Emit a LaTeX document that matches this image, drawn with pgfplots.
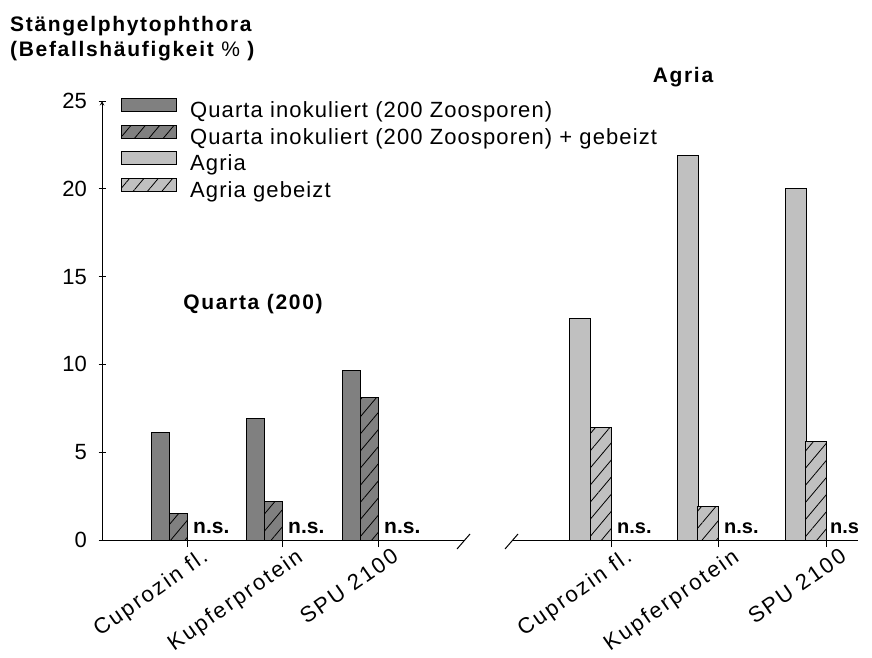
\documentclass[border=0pt]{standalone}
\usepackage{fontspec}
\setmainfont{Liberation Sans}
\newfontfamily\lgfont{Liberation Sans}[LetterSpace=5]
\newfontfamily\ttlfont{Liberation Sans}[LetterSpace=8]
\newfontfamily\lblfont{Liberation Sans}[LetterSpace=10]
\usepackage{pgfplots}
\pgfplotsset{compat=1.18}
\usetikzlibrary{patterns.meta}
\definecolor{quarta}{RGB}{128,128,128}
\definecolor{agria}{RGB}{192,192,192}

\pgfplotsset{
  hatch/.style={postaction={pattern={Lines[angle=50,distance=11pt,line width=0.8pt]}}},
  common/.style={
    scale only axis, height=439pt, ymin=0, ymax=25,
    axis x line=bottom,
    axis line style={-, line width=1pt},
    tick align=outside, major tick length=7pt,
    tick style={black, line width=1pt},
    /pgf/number format/assume math mode=true,
    xticklabel style={font=\lblfont\fontsize{22}{22}\selectfont, rotate=35, anchor=north east, xshift=14pt, yshift=-4pt},
    legend image code/.code={\draw[##1,line width=1pt] (0pt,1pt) rectangle (55pt,14pt); \path (68pt,0pt);},
  },
  barstyle/.style={ybar, bar shift=0pt, draw=black, line width=1pt},
}

\begin{document}
\begin{tikzpicture}
\path[use as bounding box] (0pt,0pt) rectangle (872pt,-658pt);

% left part: Quarta
\begin{axis}[common,
  at={(102pt,-540pt)}, anchor=south west,
  width=362pt, xmin=102, xmax=464,
  axis y line=left,
  ytick={0,5,10,15,20,25},
  yticklabel style={font=\fontsize{22}{22}\selectfont, xshift=-8pt},
  xtick={187,282,378},
  xticklabels={Cuprozin fl.,Kupferprotein,SPU 2100},
  legend style={at={(axis description cs:0.0525,1.007)}, anchor=north west,
    draw=none, fill=none, inner sep=0pt, row sep=2pt,
    font=\lgfont\fontsize{22}{22}\selectfont,
    nodes={inner sep=0pt, text height=15pt, text depth=5pt}},
  legend cell align=left,
]
\addplot[barstyle, bar width=18, fill=quarta] coordinates {(160,6.1) (255,6.9) (351,9.64)};
\addplot[barstyle, bar width=18, fill=quarta, hatch] coordinates {(178,1.5) (273,2.2) (369,8.1)};
\addlegendimage{barstyle, fill=agria}
\addlegendimage{barstyle, fill=agria, hatch}
\legend{Quarta inokuliert (200 Zoosporen), Quarta inokuliert (200 Zoosporen) + gebeizt, Agria, Agria gebeizt}
\foreach \x in {193,288,384} {
  \edef\tmp{\noexpand\node[anchor=base west, font=\noexpand\bfseries\noexpand\fontsize{21}{21}\noexpand\selectfont, inner sep=0pt] at (axis cs:\x,0) [yshift=7pt] {n.s.};}\tmp
}
\end{axis}

% right part: Agria
\begin{axis}[common,
  at={(512pt,-540pt)}, anchor=south west,
  width=346pt, xmin=512, xmax=858,
  axis y line=none,
  xtick={611,718,826},
  xticklabels={Cuprozin fl.,Kupferprotein,SPU 2100},
]
\addplot[barstyle, bar width=21, fill=agria] coordinates {(579.5,12.6) (687.5,21.9) (795.5,20.0)};
\addplot[barstyle, bar width=21, fill=agria, hatch] coordinates {(600.5,6.4) (708,1.9) (816,5.6)};
\foreach \x in {617,724,830} {
  \edef\tmp{\noexpand\node[anchor=base west, font=\noexpand\bfseries\noexpand\fontsize{20}{20}\noexpand\selectfont, inner sep=0pt] at (axis cs:\x,0) [yshift=7pt] {n.s.};}\tmp
}
\end{axis}

% axis break marks
\draw[line width=1pt] (457pt,-549pt) -- (470pt,-534pt);
\draw[line width=1pt] (505pt,-549pt) -- (518pt,-534pt);

% titles
\node[anchor=base west, inner sep=0pt, font=\ttlfont\bfseries\fontsize{21}{21}\selectfont] at (10pt,-32pt) {Stängelphytophthora};
\node[anchor=base west, inner sep=0pt, font=\ttlfont\bfseries\fontsize{21}{21}\selectfont] at (10pt,-57pt) {(Befallshäufigkeit {\mdseries\%} )};
\node[anchor=base, inner sep=0pt, font=\ttlfont\bfseries\fontsize{21}{21}\selectfont] at (683pt,-83pt) {Agria};
\node[anchor=base, inner sep=0pt, font=\ttlfont\bfseries\fontsize{21}{21}\selectfont] at (253pt,-309pt) {Quarta (200)};
\end{tikzpicture}
\end{document}
